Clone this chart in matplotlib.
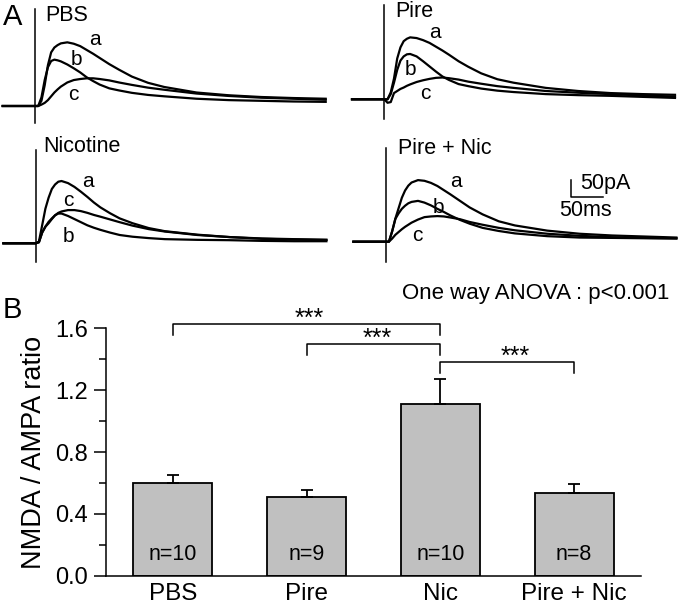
import matplotlib
matplotlib.use("Agg")
import matplotlib.pyplot as plt

plt.rcParams['font.family'] = ['Liberation Sans', 'DejaVu Sans']

# --- panel A: averaged EPSC traces (time in ms, current in pA) ---
t_ms = [-50, 0, 5, 10, 15, 20, 25, 30, 35, 40, 50, 60, 70, 80, 90, 100,
        115, 130, 150, 175, 200, 250, 300, 350, 400, 450]

pbs_a = [0, 0, 0, 15, 60, 118, 155, 169, 176, 181, 184, 180, 173, 162, 151, 139,
         121, 105, 85, 67, 55, 39, 31, 26, 23, 21]
pbs_b = [0, 0, 0, 25, 75, 112, 130, 134, 132, 129, 120, 109, 97, 83, 72, 62,
         51, 45, 38, 32, 28, 21, 17, 15, 13, 12]
pbs_c = [0, 0, 0, 4, 9, 17, 28, 39, 48, 56, 68, 75, 78, 80, 80, 78,
         74, 68, 61, 53, 47, 36, 29, 24, 21, 18]

pire_a = [0, 0, 0, 20, 60, 118, 150, 168, 175, 179, 177, 171, 163, 152, 141, 129,
          110, 94, 75, 58, 48, 33, 24, 18, 15, 13]
pire_b = [0, 0, 0, 15, 48, 85, 112, 124, 130, 131, 124, 110, 95, 80, 66, 56,
          44, 38, 31, 25, 21, 15, 12, 10, 7, 4]
pire_c = [0, 0, -10, -8, 18, 24, 30, 34, 39, 43, 50, 55, 59, 62, 63, 61,
          57, 51, 45, 38, 33, 24, 19, 15, 11, 8]

nic_a = [0, 0, 5, 52, 100, 132, 157, 170, 178, 180, 174, 163, 149, 134, 118, 104,
         87, 72, 58, 44, 35, 25, 18, 13, 11, 10]
nic_b = [0, 0, 3, 31, 48, 58, 70, 81, 86, 86, 79, 70, 61, 52, 45, 39,
         31, 24, 19, 15, 12, 10, 9, 7, 6, 6]
nic_c = [0, 0, 3, 31, 48, 62, 72, 81, 88, 92, 96, 96, 93, 88, 82, 77,
         69, 61, 51, 41, 34, 24, 18, 14, 12, 10]

pn_a = [0, 0, 0, 30, 67, 97, 127, 148, 162, 171, 178, 176, 170, 161, 149, 137,
        118, 99, 79, 59, 47, 32, 23, 18, 15, 12]
pn_b = [0, 0, 0, 30, 66, 82, 95, 104, 111, 115, 118, 113, 105, 95, 86, 76,
        63, 52, 40, 31, 24, 16, 12, 11, 10, 9]
pn_c = [0, 0, 0, 9, 20, 28, 36, 43, 49, 55, 64, 71, 73, 74, 73, 70,
        65, 57, 49, 40, 33, 23, 17, 13, 11, 10]

# --- panel B: NMDA/AMPA ratio ---
groups = ['PBS', 'Pire', 'Nic', 'Pire + Nic']
ratio = [0.598, 0.509, 1.113, 0.533]
sem = [0.055, 0.047, 0.16, 0.058]
n_cells = [10, 9, 10, 8]

W, H = 680, 609
fig = plt.figure(figsize=(6.8, 6.09), dpi=100)

px_ms = 32.3 / 50   # pixels per ms
px_pA = 17.3 / 50   # pixels per pA


def inset(x0, y0):
    left, right, below, above = 35, 300, 25, 105
    ax = fig.add_axes([(x0 - left) / W, (H - (y0 + below)) / H,
                       (left + right) / W, (below + above) / H])
    ax.set_xlim(-left / px_ms, right / px_ms)
    ax.set_ylim(-below / px_pA, above / px_pA)
    ax.axis('off')
    return ax


panels = [
    (35, 106, 'PBS', (15.5, 263), [pbs_a, pbs_b, pbs_c],
     [(93, 191), (63.5, 133), (59, 32)], (280, -49)),
    (384.3, 99.3, 'Pire', (16.5, 253), [pire_a, pire_b, pire_c],
     [(78, 194), (40, 87), (63, 17)], (273, -58)),
    (35.7, 243.3, 'Nicotine', (11.9, 279), [nic_a, nic_b, nic_c],
     [(81.5, 180), (50.6, 19), (50.6, 125)], (270, -54)),
    (385.7, 241.7, 'Pire + Nic', (19.6, 270), [pn_a, pn_b, pn_c],
     [(108, 175), (81.5, 99), (49, 19)], (271, -58)),
]

for x0, y0, name, tpos, traces, lpos, vline in panels:
    ax = inset(x0, y0)
    ax.plot([0, 0], list(vline), color='black', lw=1.1)
    for tr in traces:
        ax.plot(t_ms, tr, color='black', lw=1.6)
    for lab, (lx, ly) in zip(['a', 'b', 'c'], lpos):
        ax.text(lx, ly, lab, ha='center', va='center', fontsize=15)
    ax.text(tpos[0], tpos[1], name, ha='left', va='center', fontsize=15.5)
    if name == 'Pire + Nic':
        ax.plot([287, 287, 337], [178, 128, 128], color='black', lw=1.1)
        ax.text(301, 167, '50pA', ha='left', va='center', fontsize=15.5)
        ax.text(308.6, 91.5, '50ms', ha='center', va='center', fontsize=15.5)

# --- panel B ---
bx = fig.add_axes([106 / W, (H - 575.7) / H, 535 / W, 247.4 / H])
x = range(len(groups))
bx.bar(x, ratio, width=0.59, color='#c0c0c0', edgecolor='black', linewidth=1.3,
       yerr=[[0] * 4, sem], error_kw=dict(ecolor='black', elinewidth=1.3,
                                          capsize=4.5, capthick=1.3))
bx.set_xlim(-0.5, 3.5)
bx.set_ylim(0, 1.6)
bx.set_yticks([0, 0.4, 0.8, 1.2, 1.6])
bx.set_yticks([0.2, 0.6, 1.0, 1.4], minor=True)
bx.set_yticklabels(['0.0', '0.4', '0.8', '1.2', '1.6'], fontsize=17)
bx.set_xticks(list(x))
bx.set_xticklabels(groups, fontsize=17.5)
bx.tick_params(axis='y', which='major', length=9, width=1.1, pad=4)
bx.tick_params(axis='y', which='minor', length=5, width=1.1)
bx.tick_params(axis='x', length=0, pad=5.5)
for s in ['top', 'right']:
    bx.spines[s].set_visible(False)
for s in ['left', 'bottom']:
    bx.spines[s].set_linewidth(1.1)
bx.set_ylabel('NMDA / AMPA ratio', fontsize=19.5, labelpad=6)

for i, n in enumerate(n_cells):
    bx.text(i, 0.134, 'n=%d' % n, ha='center', va='center', fontsize=15.5)

brackets = [(0, 2, 1.628, 1.02), (1, 2, 1.499, 1.53), (2, 3, 1.384, 2.56)]
leg = 0.071
for x1, x2, yb, sx in brackets:
    bx.plot([x1, x1, x2, x2], [yb - leg, yb, yb, yb - leg], color='black',
            lw=1.1, clip_on=False)
    bx.text(sx, yb - 0.015, '***', ha='center', va='baseline', fontsize=18)

fig.text(669 / W, 1 - 293 / H, 'One way ANOVA : p<0.001', ha='right',
         va='center', fontsize=16)
fig.text(3 / W, 1 - 17 / H, 'A', ha='left', va='center', fontsize=21)
fig.text(3 / W, 1 - 310 / H, 'B', ha='left', va='center', fontsize=21)

fig.savefig('out.png', dpi=100)
